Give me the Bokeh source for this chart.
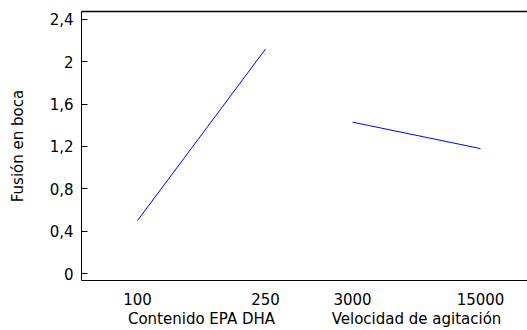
from bokeh.plotting import figure
from bokeh.models import (LinearAxis, FixedTicker, Range1d, CustomJSTickFormatter)
from bokeh.embed import file_html
from bokeh.resources import INLINE

# ---- data ----
factors = ["Contenido EPA DHA", "Velocidad de agitación"]
levels = [["100", "250"], ["3000", "15000"]]
means = [[0.50, 2.12], [1.43, 1.18]]
y_ticks = [0, 0.4, 0.8, 1.2, 1.6, 2.0, 2.4]
y_title = "Fusión en boca"

# ---- layout constants ----
STEP = 1.0
GROUP_GAP = 0.68
FONT = "DejaVu Sans"
FS = "15px"

p = figure(width=527, height=330, output_backend="svg", toolbar_location=None,
           x_range=Range1d(-0.4375, 3.047), y_range=Range1d(-0.0659, 2.475),
           x_axis_location=None, y_axis_location=None,
           min_border_left=81, min_border_right=0, min_border_top=11,
           min_border_bottom=49)
p.outline_line_color = None
p.xgrid.visible = False
p.ygrid.visible = False
p.background_fill_color = "white"
p.border_fill_color = "white"

tick_pos, tick_lab, group_pos = [], [], []
offset = 0.0
for g, (name, lv, m) in enumerate(zip(factors, levels, means)):
    xs = [offset + i * STEP for i in range(len(lv))]
    tick_pos += xs
    tick_lab += lv
    group_pos.append(sum(xs) / len(xs))
    p.line(x=xs, y=m, line_color="#0000FF", line_width=1)
    offset = xs[-1] + GROUP_GAP


def style(ax):
    ax.major_label_text_font = FONT
    ax.major_label_text_font_size = FS
    ax.major_label_text_color = "black"
    ax.minor_tick_line_color = None
    ax.major_tick_line_color = "black"


# y axis
yax = LinearAxis(ticker=FixedTicker(ticks=y_ticks),
                 formatter=CustomJSTickFormatter(code="return (Math.round(tick*10)/10).toString().replace('.', ',');"))
style(yax)
yax.axis_label = y_title
yax.axis_label_text_font = FONT
yax.axis_label_text_font_size = FS
yax.axis_label_text_color = "black"
yax.axis_label_text_font_style = "normal"
yax.axis_label_standoff = 20
yax.major_label_standoff = 8
yax.major_tick_in = 6
yax.major_tick_out = 0
yax.axis_line_color = "black"
p.add_layout(yax, "left")

# x axis (levels)
xax = LinearAxis(ticker=FixedTicker(ticks=tick_pos),
                 major_label_overrides={t: l for t, l in zip(tick_pos, tick_lab)})
style(xax)
xax.major_label_standoff = 12
xax.major_tick_in = 0
xax.major_tick_out = 0
xax.axis_line_color = "black"
p.add_layout(xax, "below")

# x axis (factor names)
gax = LinearAxis(ticker=FixedTicker(ticks=group_pos),
                 major_label_overrides={t: l for t, l in zip(group_pos, factors)})
style(gax)
gax.major_label_standoff = 2
gax.major_tick_in = 0
gax.major_tick_out = 0
gax.axis_line_color = None
p.add_layout(gax, "below")

# top frame line
tax = LinearAxis(ticker=FixedTicker(ticks=[]))
tax.major_tick_line_color = None
tax.minor_tick_line_color = None
tax.major_label_text_font_size = "0px"
tax.axis_line_color = "black"
tax.axis_line_width = 1.5
p.add_layout(tax, "above")

open("out.html", "w").write(file_html(p, INLINE))
